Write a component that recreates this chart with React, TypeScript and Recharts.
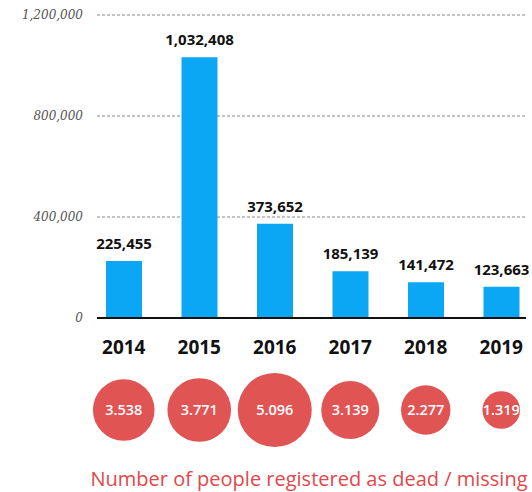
import { Bar, BarChart, CartesianGrid, LabelList, Scatter, ScatterChart, XAxis, YAxis, ZAxis } from 'recharts';

const years = ['2014', '2015', '2016', '2017', '2018', '2019'];
const arrivals = [225455, 1032408, 373652, 185139, 141472, 123663];
const deaths = [3.538, 3.771, 5.096, 3.139, 2.277, 1.319];
const yTicks = [0, 400000, 800000, 1200000];

const barData = years.map((year, i) => ({ year, arrivals: arrivals[i] }));
const circleData = years.map((year, i) => ({ year, deaths: deaths[i], y: 0.5 }));

const xPad = { left: -11, right: -13 };
const maxR = 37;

const Bubble = (props: any) => {
  const { cx, cy, payload } = props;
  const r = maxR * Math.sqrt(payload.deaths / 5.096);
  return (
    <g>
      <circle cx={cx} cy={cy} r={r} fill="#E15454" />
      <text
        x={cx}
        y={cy}
        dy="0.35em"
        textAnchor="middle"
        fill="#fff"
        fontSize={14.5}
        fontWeight={600}
        fontFamily="Open Sans"
      >
        {payload.deaths.toFixed(3)}
      </text>
    </g>
  );
};

export default function App() {
  return (
    <div style={{ position: 'absolute', left: 0, top: 0, width: 532, height: 492, background: '#fff' }}>
      <BarChart width={532} height={370} data={barData} margin={{ top: 15, right: 6, left: 0, bottom: 0 }}>
        <CartesianGrid vertical={false} stroke="#888" strokeDasharray="3 2" />
        <XAxis
          dataKey="year"
          padding={xPad}
          height={52}
          tickLine={false}
          tickSize={0}
          tickMargin={23}
          axisLine={{ stroke: '#111', strokeWidth: 2 }}
          tick={{ fontSize: 19, fontWeight: 700, fill: '#111', fontFamily: 'Open Sans' }}
        />
        <YAxis
          width={97}
          domain={[0, 1200000]}
          ticks={yTicks}
          tickLine={false}
          axisLine={false}
          tickSize={0}
          tickMargin={14}
          tickFormatter={(v: number) => v.toLocaleString('en-US')}
          tick={{ fontSize: 12, fontStyle: 'italic', fill: '#555', fontFamily: 'DejaVu Serif' }}
        />
        <Bar dataKey="arrivals" fill="#0BA6F4" barSize={36} isAnimationActive={false}>
          <LabelList
            dataKey="arrivals"
            position="top"
            offset={12}
            formatter={(v: any) => Number(v).toLocaleString('en-US')}
            style={{ fontSize: 15, fontWeight: 700, fill: '#111', fontFamily: 'Open Sans' }}
          />
        </Bar>
      </BarChart>
      <ScatterChart width={532} height={80} margin={{ top: 0, right: 6, left: 97, bottom: 0 }}>
        <XAxis dataKey="year" type="category" allowDuplicatedCategory={false} padding={xPad} hide />
        <YAxis dataKey="y" type="number" domain={[0, 1]} hide />
        <ZAxis dataKey="deaths" domain={[0, 5.096]} range={[0, 4300]} />
        <Scatter data={circleData} shape={<Bubble />} isAnimationActive={false} />
      </ScatterChart>
      <div
        style={{
          position: 'absolute',
          left: 90,
          width: 438,
          top: 466,
          textAlign: 'center',
          color: '#E2474B',
          fontFamily: 'Open Sans',
          fontSize: 20,
          lineHeight: '26px',
          whiteSpace: 'nowrap',
        }}
      >
        Number of people registered as dead / missing
      </div>
    </div>
  );
}
